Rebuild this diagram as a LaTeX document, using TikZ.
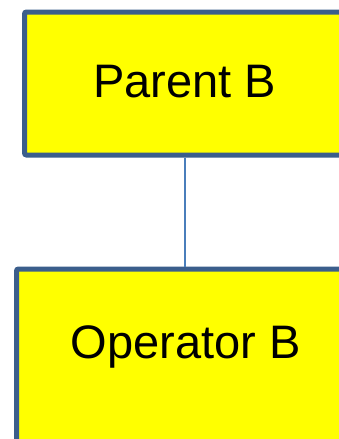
\documentclass[tikz,border=0pt]{standalone}
\usepackage{fontspec}
\setmainfont{Liberation Sans}
\definecolor{boxedge}{HTML}{3B5E8C}
\definecolor{boxfill}{HTML}{FFFF00}
\definecolor{linkblue}{HTML}{4A7EBB}
\tikzset{
  orgbox/.style={draw=boxedge, fill=boxfill, line width=5pt, rounded corners=2pt,
    rectangle, inner sep=0pt, anchor=north},
  orglabel/.style={font=\fontsize{47}{56}\selectfont, text=black, inner sep=0pt},
  orglink/.style={draw=linkblue, line width=2pt}
}
\begin{document}
\begin{tikzpicture}[x=1pt,y=-1pt]
  \useasboundingbox (0,0) rectangle (339,439);
  \clip (0,0) rectangle (339,439);
  \fill[white] (0,0) rectangle (339,439);
  % upper box
  \node[orgbox, minimum width=320pt, minimum height=143pt] (parent) at (184.5,9.5) {};
  \node[orglabel] (parentlbl) at (184.5,82) {Parent B};
  % lower box
  \node[orgbox, minimum width=336pt, minimum height=200pt] (oper) at (184.5,266.5) {};
  \node[orglabel] (operlbl) at (185.5,346.5) {Operator B};
  % connector
  \draw[orglink] (parent.south) -- (oper.north);
\end{tikzpicture}
\end{document}
